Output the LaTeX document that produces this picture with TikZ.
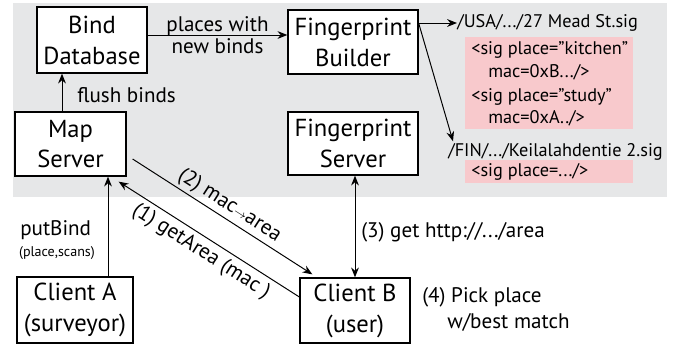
\documentclass[tikz,border=0pt]{standalone}
\usepackage{fontspec}
\setmainfont{PT Sans}
\usetikzlibrary{arrows.meta}
\definecolor{colPanel}{HTML}{E6E7E8}
\definecolor{colSig}{HTML}{F8C9CC}
\def\boxfont{\fontsize{17.5pt}{22pt}\selectfont}
\def\lblfont{\fontsize{15pt}{16pt}\selectfont}
\def\sigfont{\fontsize{13pt}{15pt}\selectfont}
\def\tinyfont{\fontsize{10pt}{12pt}\selectfont}
\tikzset{
  blk/.style={draw, line width=0.9pt, fill=white, font=\boxfont, align=center, inner sep=0pt},
  arr/.style={line width=0.7pt, -{Stealth[length=7pt,width=5.5pt]}},
  lbl/.style={font=\lblfont, inner sep=0pt},
  sig/.style={anchor=west, font=\sigfont, inner sep=0pt},
}

\begin{document}
\begin{tikzpicture}
\useasboundingbox (0,0) rectangle (16.85,-8.625);

% ===================== SERVER SIDE PANEL =====================
\fill[colPanel] (0.325,-0.075) rectangle (16.675,-4.925);
\fill[colSig] (11.625,-0.925) rectangle (15.825,-3.225);
\fill[colSig] (11.625,-4.000) rectangle (15.825,-4.575);

\node[blk, minimum width=2.75cm, minimum height=1.65cm] (bind) at (2.300,-1.000) {Bind\\Database};
\node[blk, minimum width=3.25cm, minimum height=1.60cm] (fpb) at (8.825,-1.050) {Fingerprint\\Builder};
\node[blk, minimum width=2.775cm, minimum height=1.60cm] (map) at (1.7625,-3.600) {Map\\Server};
\node[blk, minimum width=3.25cm, minimum height=1.575cm] (fps) at (8.825,-3.5875) {Fingerprint\\Server};

% signature files
\node[sig] (usa) at (11.425,-0.575) {/USA/.../27 Mead St.sig};
\node[sig] (sigA) at (11.775,-1.250) {<sig place=”kitchen”};
\node[sig] (macA) at (12.200,-1.800) {mac=0xB.../>};
\node[sig] (sigB) at (11.775,-2.425) {<sig place=”study”};
\node[sig] (macB) at (12.200,-2.950) {mac=0xA../>};
\node[sig] (fin) at (11.200,-3.800) {/FIN/.../Keilalahdentie 2.sig};
\node[sig] (sigC) at (11.775,-4.300) {<sig place=.../>};

\draw[arr] ([yshift=0.125cm]bind.east) -- ([yshift=0.125cm]bind.east -| fpb.west)
  node[lbl, midway, align=center] (pnew) {places with\\new binds};
\draw[arr] ([xshift=-0.2125cm]map.north) -- ([xshift=-0.2125cm]map.north |- bind.south);
\node[lbl, anchor=west] (flush) at (1.925,-2.375) {flush binds};

\coordinate (fpbout) at ([yshift=0.475cm]fpb.east);
\draw[arr] (fpbout) -- (usa.west);
\draw[arr] (fpbout) -- ([xshift=0.125cm, yshift=0.05cm]fin.north west);

% ===================== CLIENTS =====================
\node[blk, minimum width=2.90cm, minimum height=1.65cm] (cla) at (1.875,-7.750) {Client A\\(surveyor)};
\node[blk, minimum width=2.75cm, minimum height=1.625cm] (clb) at (8.875,-7.7625) {Client B\\(user)};

\draw[arr] ([xshift=0.825cm]cla.north) -- ([xshift=0.825cm]cla.north |- map.south);
\node[lbl, anchor=west] (put) at (0.50,-5.75) {putBind};
\node[anchor=west, font=\tinyfont, inner sep=0pt] (putarg) at (0.47,-6.33) {(place,scans)};

\draw[arr] ([xshift=0.15cm, yshift=-0.375cm]map.east) -- ([xshift=0.325cm, yshift=0.075cm]clb.north west)
  node[lbl, midway, sloped, above=2pt] (step2) {(2) mac{\small$\rightarrow$}area};
\draw[arr] ([yshift=0.3375cm]clb.west) -- ([xshift=-0.2cm, yshift=-0.125cm]map.south east)
  node[lbl, midway, sloped, below=3pt] (step1) {(1) getArea (mac )};

\draw[line width=0.7pt, {Stealth[length=7pt,width=5.5pt]}-{Stealth[length=7pt,width=5.5pt]}]
  (clb.north) -- (clb.north |- fps.south);
\node[lbl, anchor=west] (step3) at (9.025,-5.800) {(3) get http://.../area};

\node[lbl, anchor=west] (step4) at (10.550,-7.425) {(4) Pick place};
\node[lbl, anchor=west] (step4b) at (11.175,-8.050) {w/best match};

\end{tikzpicture}
\end{document}
